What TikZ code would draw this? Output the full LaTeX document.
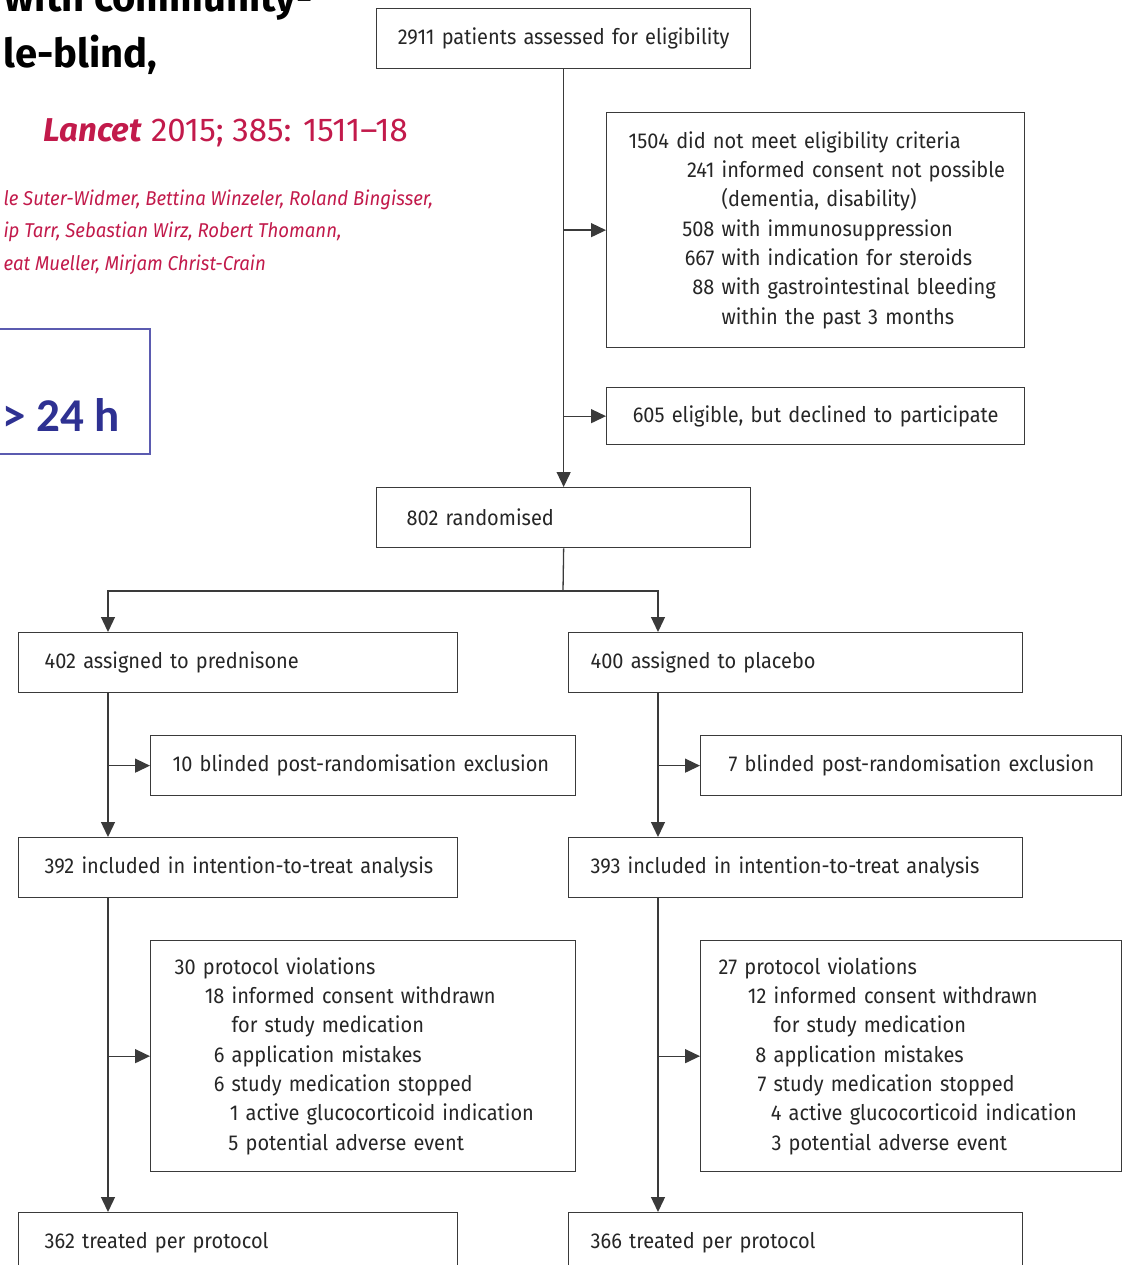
\documentclass[tikz,border=0pt]{standalone}
\usepackage{fontspec}
\setmainfont{Fira Sans}
\newfontfamily\boxfont{Fira Sans}[FakeStretch=0.93]
\newfontfamily\bluefont{Carlito}
\usetikzlibrary{arrows.meta}
\definecolor{lncol}{HTML}{3A3A3A}
\definecolor{txcol}{HTML}{262626}
\definecolor{lred}{HTML}{C21A4B}
\definecolor{bblue}{HTML}{2E3192}
\definecolor{bline}{HTML}{5B5BB0}
\newcommand\pad[1]{\hspace*{#1pt}}
\begin{document}
\begin{tikzpicture}[x=1pt,y=-1pt,
  box/.style={draw=lncol, line width=1.3pt, anchor=north west, align=left,
    inner xsep=0pt, inner ysep=0pt, text=txcol, font=\boxfont\fontsize{21.5}{29.3}\selectfont},
  cbox/.style={box, align=center},
  link/.style={draw=lncol, line width=1.3pt},
  arr/.style={link, -{Triangle[length=15pt,width=14pt]}},
  red/.style={anchor=base west, text=lred}
]
\useasboundingbox (0,0) rectangle (1122,1265);
\clip (0,0) rectangle (1122,1265);

% header texts
\node (title1) [anchor=base east, font=\fontsize{40}{40}\selectfont\bfseries, text=black] at (316,12) {with community-};
\node (title2) [anchor=base west, font=\fontsize{40}{40}\selectfont\bfseries, text=black] at (0,68) {le-blind,};
\node (journal) [red, font=\fontsize{33}{33}\selectfont] at (40,142) {\textit{\textbf{Lancet}} 2015; 385: 1511–18};
\node (auth1) [red, font=\boxfont\fontsize{20}{20}\selectfont\itshape] at (0,206) {le Suter-Widmer, Bettina Winzeler, Roland Bingisser,};
\node (auth2) [red, font=\boxfont\fontsize{20}{20}\selectfont\itshape] at (0,238) {ip Tarr, Sebastian Wirz, Robert Thomann,};
\node (auth3) [red, font=\boxfont\fontsize{20}{20}\selectfont\itshape] at (0,270) {eat Mueller, Mirjam Christ-Crain};
\node (bluebox) [draw=bline, line width=1.5pt, anchor=north west, minimum width=160pt, minimum height=125pt, inner sep=0pt] at (-11,328) {};
\node (bluetext) [anchor=base west, text=bblue, font=\bluefont\fontsize{47}{47}\selectfont\bfseries] at (-1,431) {> 24 h};

% boxes
\node (A) [cbox, text width=374pt, minimum height=60pt] at (376,8) {2911 patients assessed for eligibility};
\node (B) [box, text width=418pt, minimum height=235pt] at (606,112) {%
\pad{22}1504 did not meet eligibility criteria\\
\pad{115}\llap{241 }informed consent not possible\\
\pad{115}(dementia, disability)\\
\pad{115}\llap{508 }with immunosuppression\\
\pad{115}\llap{667 }with indication for steroids\\
\pad{115}\llap{88 }with gastrointestinal bleeding\\
\pad{115}within the past 3 months};
\node (C) [cbox, text width=418pt, minimum height=57pt] at (606,387) {605 eligible, but declined to participate};
\node (D) [box, text width=374pt, minimum height=60pt] at (376,487) {\pad{30}802 randomised};
\node (E) [box, text width=439pt, minimum height=60pt] at (18,632) {\pad{26}402 assigned to prednisone};
\node (F) [box, text width=454pt, minimum height=60pt] at (568,632) {\pad{22}400 assigned to placebo};
\node (G) [box, text width=425pt, minimum height=60pt] at (150,735) {\pad{22}10 blinded post-randomisation exclusion};
\node (H) [box, text width=421pt, minimum height=60pt] at (700,735) {\pad{28}7 blinded post-randomisation exclusion};
\node (I) [box, text width=439pt, minimum height=60pt] at (18,837) {\pad{26}392 included in intention-to-treat analysis};
\node (J) [box, text width=454pt, minimum height=60pt] at (568,837) {\pad{22}393 included in intention-to-treat analysis};
\node (K) [box, text width=425pt, minimum height=231pt] at (150,940) {%
\pad{24}30 protocol violations\\
\pad{81}\llap{18 }informed consent withdrawn\\
\pad{81}for study medication\\
\pad{81}\llap{6 }application mistakes\\
\pad{81}\llap{6 }study medication stopped\\
\pad{95}\llap{1 }active glucocorticoid indication\\
\pad{95}\llap{5 }potential adverse event};
\node (L) [box, text width=421pt, minimum height=231pt] at (700,940) {%
\pad{18}27 protocol violations\\
\pad{73}\llap{12 }informed consent withdrawn\\
\pad{73}for study medication\\
\pad{73}\llap{8 }application mistakes\\
\pad{73}\llap{7 }study medication stopped\\
\pad{88}\llap{4 }active glucocorticoid indication\\
\pad{88}\llap{3 }potential adverse event};
\node (M) [box, text width=439pt, minimum height=60pt] at (18,1212) {\pad{26}362 treated per protocol};
\node (N) [box, text width=454pt, minimum height=60pt] at (568,1212) {\pad{22}366 treated per protocol};

% connectors
\coordinate (split) at (563,591);
\coordinate (lx) at (108,591);
\coordinate (rx) at (658,591);
\draw[arr] (A.south) -- (D.north);
\draw[arr] (A.south |- B.west) -- (B.west);
\draw[arr] (A.south |- C.west) -- (C.west);
\draw[link] (D.south) -- (split);
\draw[arr] (split) -| (E.north -| lx);
\draw[arr] (split) -| (F.north -| rx);
\draw[arr] (E.south -| lx) -- (I.north -| lx);
\draw[arr] (lx |- G.west) -- (G.west);
\draw[arr] (F.south -| rx) -- (J.north -| rx);
\draw[arr] (rx |- H.west) -- (H.west);
\draw[arr] (I.south -| lx) -- (M.north -| lx);
\draw[arr] (lx |- K.west) -- (K.west);
\draw[arr] (J.south -| rx) -- (N.north -| rx);
\draw[arr] (rx |- L.west) -- (L.west);
\end{tikzpicture}
\end{document}
